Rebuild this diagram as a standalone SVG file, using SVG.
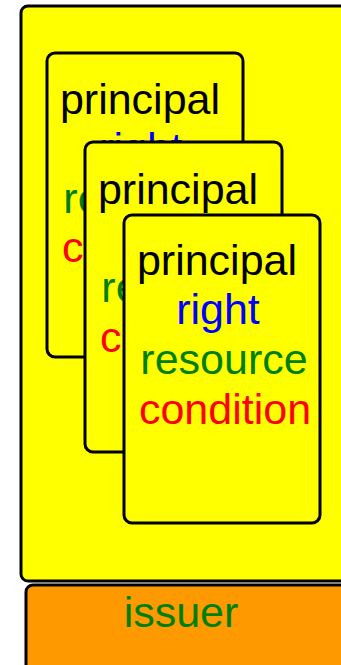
<svg xmlns="http://www.w3.org/2000/svg" width="341" height="665" viewBox="0 0 341 665">
<style>
.box{stroke:#000;stroke-width:3}
.outer{fill:#ffff00}
.card{fill:#ffff00}
.iss{fill:#ff9900}
text{font-family:"Liberation Sans",Arial,sans-serif;font-size:43px;text-anchor:middle}
.p{fill:#000}
.r{fill:#0000ff}
.s{fill:#008000}
.c{fill:#ff0000}
</style>
<rect width="341" height="665" fill="#ffffff"/>
<g id="license">
<rect class="box outer" x="21" y="6" width="340" height="575" rx="7"/>
</g>
<g id="issuer">
<rect class="box iss" x="26" y="585" width="335" height="90" rx="7"/>
<text class="s" x="181" y="627">issuer</text>
</g>
<g id="grant1" transform="translate(47,53)">
<rect class="box card" x="0" y="0" width="196" height="304" rx="8"/>
<text class="p" x="93" y="61">principal</text>
<text class="r" x="94" y="110">right</text>
<text class="s" x="100" y="160">resource</text>
<text class="c" x="101" y="209">condition</text>
</g>
<g id="grant2" transform="translate(85,142)">
<rect class="box card" x="0" y="0" width="197" height="310" rx="8"/>
<text class="p" x="93" y="62">principal</text>
<text class="r" x="94" y="111">right</text>
<text class="s" x="100" y="160">resource</text>
<text class="c" x="101" y="210">condition</text>
</g>
<g id="grant3" transform="translate(124,215)">
<rect class="box card" x="0" y="0" width="196" height="308" rx="8"/>
<text class="p" x="93" y="60">principal</text>
<text class="r" x="94" y="109">right</text>
<text class="s" x="100" y="159">resource</text>
<text class="c" x="101" y="209">condition</text>
</g>
</svg>
